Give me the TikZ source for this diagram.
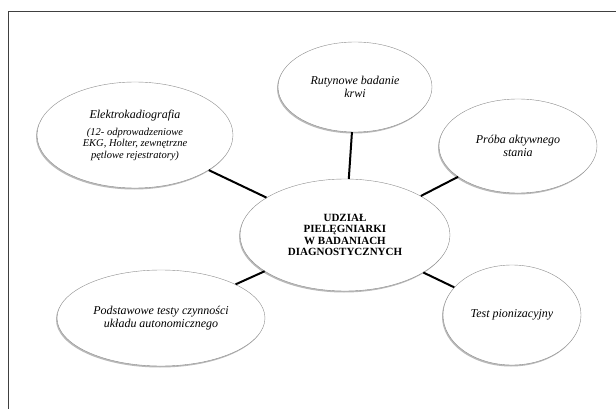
\documentclass[tikz,border=0pt]{standalone}
\usepackage{fontspec}
\setmainfont{Liberation Serif}
\usetikzlibrary{shapes.geometric,shadows}

\tikzset{
	bubble/.style={ellipse, draw=black!45, thin, fill=white, inner sep=0pt, align=center,
		drop shadow={shadow xshift=-1pt, shadow yshift=-1.5pt, opacity=0.5, fill=black!55},
		font=\fontsize{12}{13.5}\selectfont\itshape},
	link/.style={line width=2pt, black}
}

\begin{document}
\begin{tikzpicture}[x=1pt, y=-1pt]
	\useasboundingbox (0,0) rectangle (616,409);
	\draw[black!75, line width=0.9pt] (616,11) -- (8,11) -- (8,409); % frame

	% centre
	\node[bubble, minimum width=210pt, minimum height=112pt,
		font=\fontsize{11}{11.5}\selectfont\bfseries] (udzial) at (345,235)
		{UDZIAŁ\\PIELĘGNIARKI\\W BADANIACH\\DIAGNOSTYCZNYCH};

	% outer bubbles
	\node[bubble, minimum width=154pt, minimum height=90pt] (krew) at (355,87)
		{Rutynowe badanie\\krwi};
	\node[bubble, minimum width=196pt, minimum height=106pt,
		font=\fontsize{10.5}{11.5}\selectfont\itshape] (ekg) at (135,135)
		{\fontsize{12}{11.5}\selectfont Elektrokadiografia\\[5.5pt]
		\fontsize{10.5}{11.5}\selectfont (12- odprowadzeniowe\\EKG, Holter, zewnętrzne\\pętlowe rejestratory)};
	\node[bubble, minimum width=158pt, minimum height=94pt] (stanie) at (518,146)
		{Próba aktywnego\\stania};
	\node[bubble, minimum width=208pt, minimum height=96pt] (testy) at (161,318)
		{Podstawowe testy czynności\\układu autonomicznego};
	\node[bubble, minimum width=138pt, minimum height=100pt] (pion) at (512,315)
		{Test pionizacyjny};

	% links to the centre
	\foreach \n in {krew, ekg, stanie, testy, pion}
		\draw[link] (\n) -- (udzial);
\end{tikzpicture}
\end{document}
